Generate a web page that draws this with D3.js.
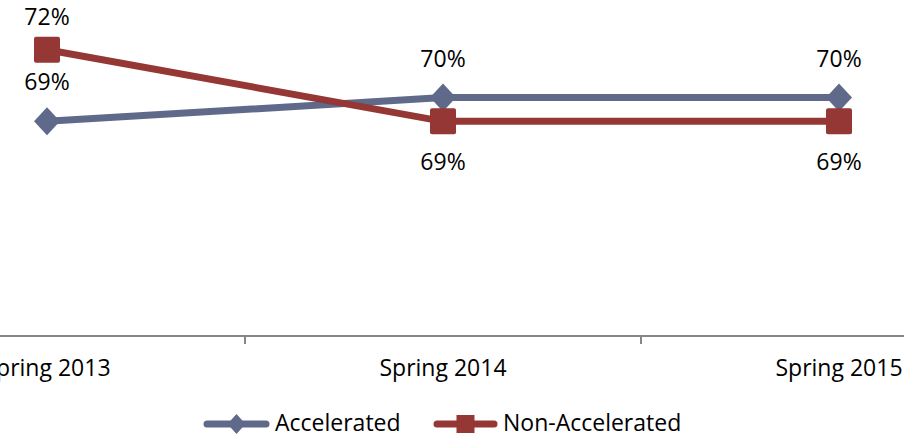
<!DOCTYPE html>
<html>
<head>
<meta charset="utf-8">
<script src="https://cdn.jsdelivr.net/npm/d3@7"></script>
<style>
  html, body { margin: 0; padding: 0; background: #fff; }
  svg { display: block; font-family: 'Open Sans', sans-serif; }
</style>
</head>
<body>
<svg id="chart" width="904" height="438"></svg>
<script>
const categories = ['Spring 2013', 'Spring 2014', 'Spring 2015']
const accelerated = [0.69, 0.70, 0.70]
const nonAccelerated = [0.72, 0.69, 0.69]
const seriesNames = ['Accelerated', 'Non-Accelerated']

const width = 904
const height = 438
const colors = { acc: '#5f6a8a', non: '#953735' }
const fontSize = 23

const svg = d3.select('#chart')

// the original is a cropped chart, so the band range runs past the frame
const x = d3.scaleBand().domain(categories).range([-151, 1037])
const y = d3.scaleLinear().domain([0.6, 0.8]).range([336, -141])
const fmt = d3.format('.0%')

// x axis: line + boundary ticks + labels
const axisG = svg.append('g')
axisG.append('line')
  .attr('x1', 0).attr('x2', width)
  .attr('y1', y(0.6)).attr('y2', y(0.6))
  .attr('stroke', '#868686').attr('stroke-width', 2)
axisG.selectAll('line.tick')
  .data(categories.slice(0, -1))
  .join('line')
  .attr('class', 'tick')
  .attr('x1', (d) => x(d) + x.bandwidth()).attr('x2', (d) => x(d) + x.bandwidth())
  .attr('y1', y(0.6)).attr('y2', y(0.6) + 8)
  .attr('stroke', '#868686').attr('stroke-width', 2)
axisG.selectAll('text')
  .data(categories)
  .join('text')
  .attr('x', (d) => x(d) + x.bandwidth() / 2)
  .attr('y', 376)
  .attr('text-anchor', 'middle')
  .attr('font-size', fontSize)
  .attr('fill', '#000')
  .text((d) => d)

const cx = (i) => x(categories[i]) + x.bandwidth() / 2

function diamondPath(w, h) {
  return `M0,${-h / 2}L${w / 2},0L0,${h / 2}L${-w / 2},0Z`
}

const line = d3.line().x((d, i) => cx(i)).y((d) => y(d))

// Accelerated
svg.append('path')
  .datum(accelerated)
  .attr('d', line)
  .attr('fill', 'none')
  .attr('stroke', colors.acc)
  .attr('stroke-width', 7)
svg.selectAll('path.acc-marker')
  .data(accelerated)
  .join('path')
  .attr('class', 'acc-marker')
  .attr('d', diamondPath(26, 28))
  .attr('transform', (d, i) => `translate(${cx(i)},${y(d)})`)
  .attr('fill', colors.acc)

// Non-Accelerated
svg.append('path')
  .datum(nonAccelerated)
  .attr('d', line)
  .attr('fill', 'none')
  .attr('stroke', colors.non)
  .attr('stroke-width', 7)
svg.selectAll('rect.non-marker')
  .data(nonAccelerated)
  .join('rect')
  .attr('class', 'non-marker')
  .attr('x', (d, i) => cx(i) - 13)
  .attr('y', (d) => y(d) - 13)
  .attr('width', 26).attr('height', 26)
  .attr('rx', 2)
  .attr('fill', colors.non)

// data labels
svg.selectAll('text.acc-label')
  .data(accelerated)
  .join('text')
  .attr('class', 'acc-label')
  .attr('x', (d, i) => cx(i))
  .attr('y', (d) => y(d) - 31)
  .attr('text-anchor', 'middle')
  .attr('font-size', fontSize)
  .text((d) => fmt(d))

svg.selectAll('text.non-label')
  .data(nonAccelerated)
  .join('text')
  .attr('class', 'non-label')
  .attr('x', (d, i) => cx(i))
  .attr('y', (d, i) => (d > accelerated[i] ? y(d) - 25 : y(d) + 49))
  .attr('text-anchor', 'middle')
  .attr('font-size', fontSize)
  .text((d) => fmt(d))

// legend
const legend = svg.append('g').attr('transform', 'translate(0,424)')
const legendItems = [
  { name: seriesNames[0], color: colors.acc, x0: 207, x1: 266, tx: 275, marker: 'diamond' },
  { name: seriesNames[1], color: colors.non, x0: 437, x1: 494, tx: 503, marker: 'square' },
]
legendItems.forEach((it) => {
  const g = legend.append('g')
  g.append('line')
    .attr('x1', it.x0).attr('x2', it.x1)
    .attr('stroke', it.color).attr('stroke-width', 7)
    .attr('stroke-linecap', 'round')
  const mx = (it.x0 + it.x1) / 2
  if (it.marker === 'diamond') {
    g.append('path')
      .attr('d', diamondPath(18, 20))
      .attr('transform', `translate(${mx},0)`)
      .attr('fill', it.color)
  } else {
    g.append('rect')
      .attr('x', mx - 9).attr('y', -9)
      .attr('width', 18).attr('height', 18)
      .attr('fill', it.color)
  }
  g.append('text')
    .attr('x', it.tx)
    .attr('y', 7)
    .attr('font-size', fontSize)
    .text(it.name)
})
</script>
</body>
</html>
